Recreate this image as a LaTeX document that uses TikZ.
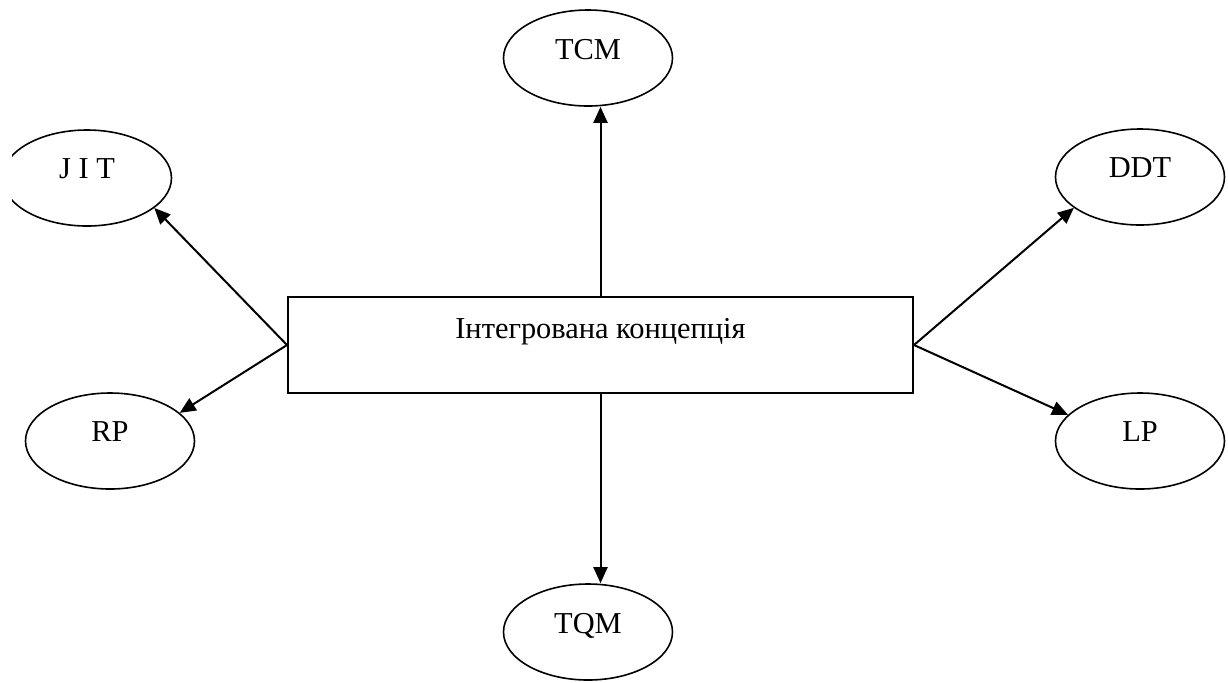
\documentclass[tikz,border=0pt]{standalone}
\usepackage{fontspec}
\setmainfont{Liberation Serif}
\usepackage{tikz}
\usetikzlibrary{arrows.meta,shapes.geometric,positioning}

\begin{document}
\begin{tikzpicture}[x=0.5pt, y=-0.5pt, >={Triangle[length=8pt,width=7pt]},
  font=\fontsize{15.2}{18}\selectfont,
  method/.style={ellipse, draw, line width=0.8pt, inner sep=0pt,
    minimum width=84.5pt, minimum height=48pt, text depth=9pt},
  core/.style={rectangle, draw, line width=1pt, inner sep=0pt,
    minimum width=312.5pt, minimum height=48pt, text depth=17pt},
  link/.style={->, line width=1pt}]

\useasboundingbox (0,0) rectangle (1228,682);
\clip (12,0) rectangle (1228,682);

% =========================================================
% central concept
% =========================================================
\node[core] (concept) at (600.5,345) {Інтегрована концепція};

% =========================================================
% surrounding methods
% =========================================================
\node[method] (tcm) at (588,58)   {TCM};
\node[method] (tqm) at (588,632)  {TQM};
\node[method] (jit) at (87,178)   {J I T};
\node[method] (rp)  at (110,441)  {RP};
\node[method] (ddt) at (1140,177) {DDT};
\node[method] (lp)  at (1140,441) {LP};

% arrows from the concept
\draw[link] (concept.north) -- (concept.north |- tcm.south);
\draw[link] (concept.south) -- (concept.south |- tqm.north);
\draw[link] (concept.west) -- (jit.-24);
\draw[link] (concept.west) -- (rp.22);
\draw[link] (concept.east) -- (ddt.-155);
\draw[link] (concept.east) -- (lp.160);

\end{tikzpicture}
\end{document}
